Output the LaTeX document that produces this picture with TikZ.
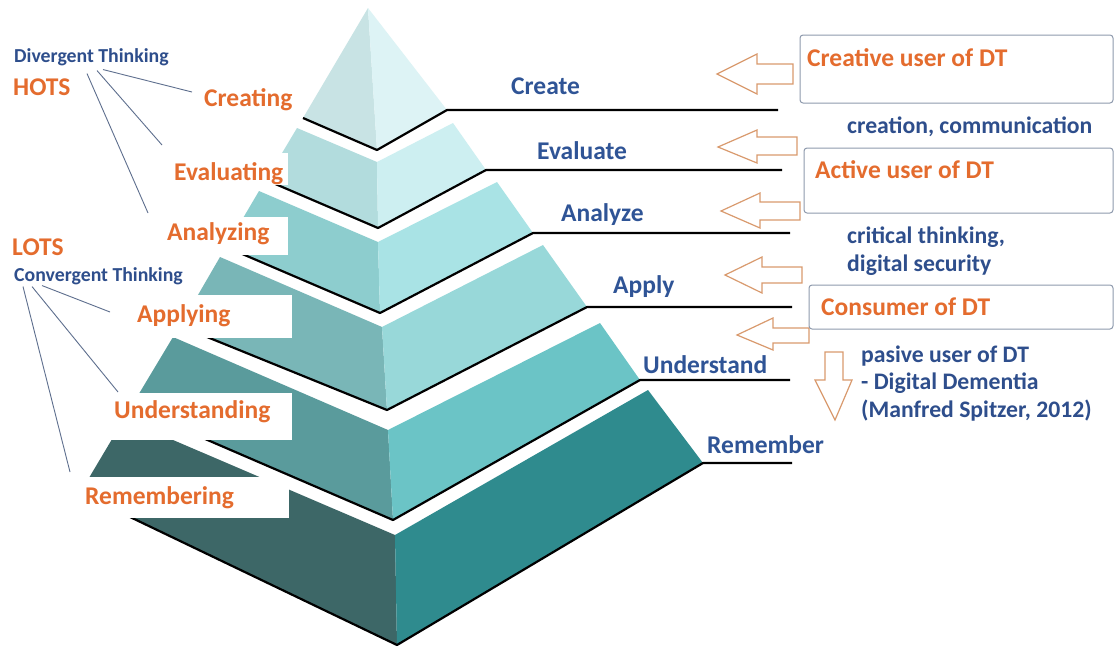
\documentclass[tikz,border=0pt]{standalone}
\usepackage{fontspec}
\setmainfont{Carlito}
\usepackage{tikz}
\usepackage{xcolor}

\definecolor{lvlorange}{HTML}{E46C2E}
\definecolor{stageblue}{HTML}{2F5496}
\definecolor{noteblue}{HTML}{2E4E8C}
\definecolor{thinkgray}{HTML}{5E6F8E}
\definecolor{arroworange}{HTML}{D99A6E}
\definecolor{boxgray}{HTML}{8E9AAD}
\definecolor{t1L}{HTML}{C8E3E4}
\definecolor{t1R}{HTML}{DDF3F5}
\definecolor{t2L}{HTML}{B2DCDD}
\definecolor{t2R}{HTML}{CDEFF1}
\definecolor{t3L}{HTML}{8DCDCE}
\definecolor{t3R}{HTML}{A9E3E5}
\definecolor{t4L}{HTML}{79B6B7}
\definecolor{t4R}{HTML}{98D8D9}
\definecolor{t5L}{HTML}{5A9B9C}
\definecolor{t5R}{HTML}{6BC4C6}
\definecolor{t6L}{HTML}{3D6767}
\definecolor{t6R}{HTML}{2F8B8E}

\begin{document}
\begin{tikzpicture}[x=1pt, y=-1pt,
		rim/.style={line width=2.2pt, line join=round},
		tag/.style={fill=white},
		lvltag/.style={anchor=base west, inner sep=0, text=lvlorange, font=\fontsize{25.5}{30}\selectfont\bfseries},
		stage/.style={anchor=base west, inner sep=0, text=stageblue, font=\fontsize{25.5}{30}\selectfont\bfseries},
		think/.style={anchor=base west, inner sep=0, text=noteblue, font=\fontsize{19.8}{23}\selectfont\bfseries},
		note/.style={anchor=base west, inner sep=0, align=left, text=noteblue, font=\fontsize{23.7}{27.5}\selectfont\bfseries},
		userbox/.style={draw=boxgray, line width=1pt, rounded corners=3pt, fill=white},
		blockarrow/.style={draw=arroworange, fill=white, line width=1.2pt},
		thinkline/.style={draw=thinkgray, line width=0.9pt}]
		
		\fill[white] (0,0) rectangle (1114,648);
		
		% top of the pyramid
		\fill[t1L] (368,8) -- (303,118) -- (377,150) -- cycle;
		\fill[t1R] (368,8) -- (377,150) -- (447,110) -- cycle;
		\draw[rim] (303,118) -- (377,150) -- (447,110) -- (778,110);
		
		\fill[t2L] (297,128) -- (377,162) -- (378,228) -- (266,180) -- cycle;
		\fill[t2R] (377,162) -- (453,123) -- (486,170) -- (378,228) -- cycle;
		\draw[rim] (266,180) -- (378,228) -- (486,170) -- (782,170);
		
		\fill[t3L] (259,191) -- (378,242) -- (380,313) -- (226,247) -- cycle;
		\fill[t3R] (378,242) -- (497,182) -- (533,233) -- (380,313) -- cycle;
		\draw[rim] (226,247) -- (380,313) -- (533,233) -- (790,233);
		
		\fill[t4L] (220,257) -- (382,327) -- (387,410) -- (180,326) -- cycle;
		\fill[t4R] (382,327) -- (543,245) -- (587,307) -- (387,410) -- cycle;
		\draw[rim] (180,326) -- (387,410) -- (587,307) -- (792,307);
		
		\fill[t5L] (173,337) -- (388,430) -- (393,520) -- (131,407) -- cycle;
		\fill[t5R] (388,430) -- (600,323) -- (640,380) -- (393,520) -- cycle;
		\draw[rim] (131,407) -- (393,520) -- (640,380) -- (790,380);
		
		% base
		\fill[t6L] (124,419) -- (395,535) -- (397,645) -- (80,493) -- cycle;
		\fill[t6R] (395,535) -- (648,390) -- (703,463) -- (397,645) -- cycle;
		\draw[rim] (80,493) -- (397,645) -- (703,463) -- (792,463);
		
		% white tags over the left corners
		\fill[tag] (150,153) rectangle (288,185);
		\fill[tag] (150,217) rectangle (288,255);
		\fill[tag] (120,295) rectangle (292,338);
		\fill[tag] (100,393) rectangle (292,440);
		\fill[tag] (65,477) rectangle (289,518);
		
		\node[think] (divergent) at (14,62) {Divergent Thinking};
		\node[lvltag] (hots) at (13,95) {HOTS};
		\node[lvltag] (lots) at (12,255) {LOTS};
		\node[think] (convergent) at (14,281) {Convergent Thinking};
		
		\node[lvltag] (creating) at (204,106) {Creating};
		\node[lvltag] (evaluating) at (174,180) {Evaluating};
		\node[lvltag] (analyzing) at (167,240) {Analyzing};
		\node[lvltag] (applying) at (137,322) {Applying};
		\node[lvltag] (understanding) at (114,418) {Understanding};
		\node[lvltag] (remembering) at (85,504) {Remembering};
		
		\node[stage] (create) at (511,94) {Create};
		\node[stage] (evaluate) at (537,159) {Evaluate};
		\node[stage] (analyze) at (561,221) {Analyze};
		\node[stage] (apply) at (613,293) {Apply};
		\node[stage] (understand) at (643,373) {Understand};
		\node[stage] (remember) at (707,453) {Remember};
		
		\coordinate (hi1) at (192,92);
		\coordinate (hi2) at (162,145);
		\coordinate (hi3) at (148,213);
		\coordinate (lo1) at (110,312);
		\coordinate (lo2) at (118,392);
		\coordinate (lo3) at (70,472);
		
		\draw[thinkline] ([shift={(89,4)}]divergent.south west) -- (hi1);
		\draw[thinkline] ([shift={(83,5)}]divergent.south west) -- (hi2);
		\draw[thinkline] ([shift={(73,8)}]divergent.south west) -- (hi3);
		
		\draw[thinkline] ([shift={(28,1)}]convergent.south west) -- (lo1);
		\draw[thinkline] ([shift={(18,2)}]convergent.south west) -- (lo2);
		\draw[thinkline] ([shift={(9,2)}]convergent.south west) -- (lo3);
		
		% hollow arrows
		\draw[blockarrow] (717,74) -- (757,54) -- (757,64) -- (793,64) -- (793,84) -- (757,84) -- (757,94) -- cycle;
		\draw[blockarrow] (718,147) -- (757,130) -- (757,137) -- (797,137) -- (797,155) -- (757,155) -- (757,163) -- cycle;
		\draw[blockarrow] (721,211) -- (760,193) -- (760,202) -- (800,202) -- (800,220) -- (760,220) -- (760,228) -- cycle;
		\draw[blockarrow] (725,275) -- (762,257) -- (762,267) -- (802,267) -- (802,283) -- (762,283) -- (762,293) -- cycle;
		\draw[blockarrow] (737,335) -- (773,318) -- (773,328) -- (809,328) -- (809,343) -- (773,343) -- (773,350) -- cycle;
		\draw[blockarrow] (825,352) -- (843,352) -- (843,380) -- (852,380) -- (835,420) -- (815,380) -- (825,380) -- cycle;
		
		% user boxes
		\draw[userbox] (800,35) rectangle (1113,103);
		\node[lvltag] (creative) at (807,66) {Creative user of DT};
		
		\draw[userbox] (804,148) rectangle (1113,213);
		\node[lvltag] (active) at (815,178) {Active user of DT};
		
		\draw[userbox] (809,285) rectangle (1113,329);
		\node[lvltag] (consumer) at (821,315) {Consumer of DT};
		
		% last baseline sets the position of the two-line notes
		\node[note] (creation) at (847,133) {creation, communication};
		\node[note] (critical) at (847,271) {critical thinking,\\digital security};
		\node[note] (pasive) at (861,417) {pasive user of DT\\- Digital Dementia\\(Manfred Spitzer, 2012)};
	\end{tikzpicture}
\end{document}
